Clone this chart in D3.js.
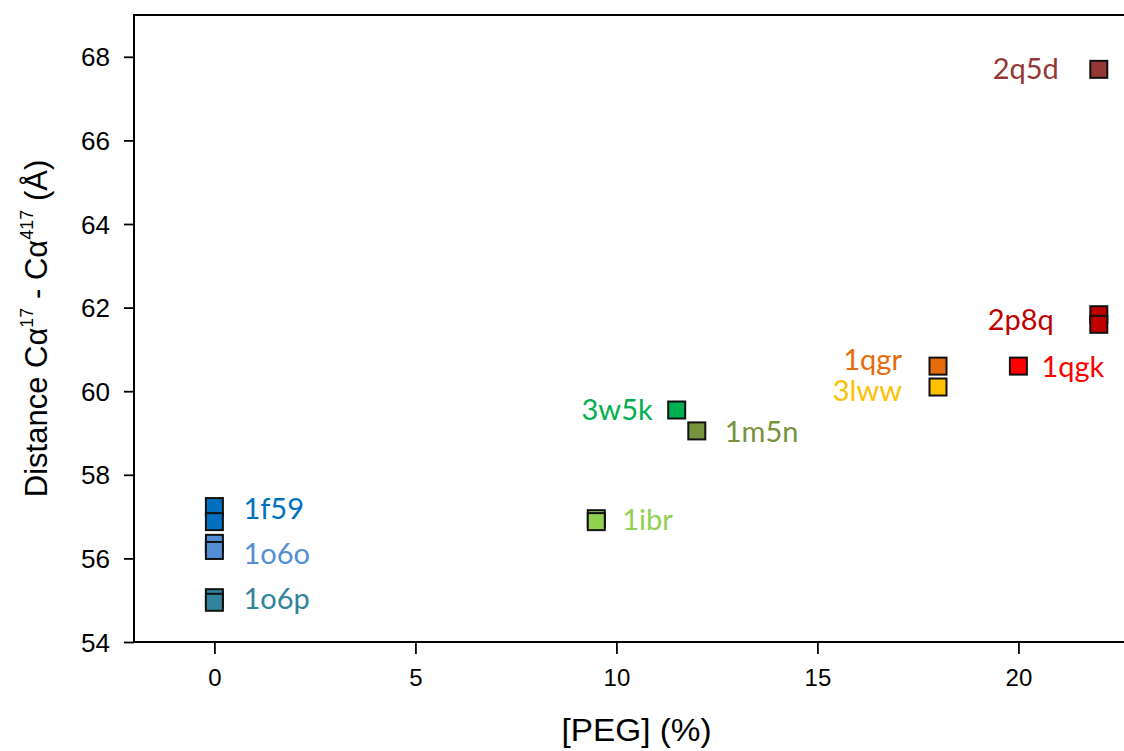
<!DOCTYPE html>
<html>
<head>
<meta charset="utf-8">
<script src="https://cdn.jsdelivr.net/npm/d3@7"></script>
<style>
  html, body { margin: 0; padding: 0; background: #fff; }
  svg { display: block; overflow: hidden; }
</style>
</head>
<body>
<svg id="chart" width="1124" height="751"></svg>
<script>
// PDB structures, PEG concentration (%) and measured Cα17–Cα417 distances (Å)
const structures = ["1f59", "1o6o", "1o6p", "1ibr", "3w5k", "1m5n", "1qgr", "3lww", "1qgk", "2p8q", "2q5d"];
const pegPercent = [0, 0, 0, 9.5, 11.5, 12, 18, 18, 20, 22, 22];
const distances = [
  [57.24, 56.88],
  [56.36, 56.19],
  [55.06, 54.95],
  [56.95, 56.88],
  [59.55],
  [59.05],
  [60.6],
  [60.1],
  [60.6],
  [61.83, 61.6],
  [67.7]
];
const xTickValues = [0, 5, 10, 15, 20];
const yTickValues = [54, 56, 58, 60, 62, 64, 66, 68];

// colour per structure
const colors = ["#0070C0", "#558ED5", "#31849B", "#92D050", "#00B050", "#77933C",
                "#E46C0A", "#FFC000", "#FF0000", "#C00000", "#953735"];
// label placement relative to the first marker of each structure: [anchor, dx, dy]
const labelPlacement = [
  ["start", 29, 12], ["start", 29, 21], ["start", 29, 11], ["start", 26, 11],
  ["end", -24, 10], ["start", 28, 11], ["end", -36, 4], ["end", -36, 14],
  ["start", 23, 11], ["end", -45, 15], ["end", -40, 10]
];

const svg = d3.select("#chart");
const plot = { left: 134, top: 15, right: 1139, bottom: 642 };

const x = d3.scaleLinear().domain([-2, 23]).range([plot.left, plot.right]);
const y = d3.scaleLinear().domain([54, 69]).range([plot.bottom, plot.top]);

const axisFont = "'Liberation Sans', Arial, Helvetica, sans-serif";
const labelFont = "Lato, 'Open Sans', sans-serif";

// x axis
const gx = svg.append("g")
  .attr("transform", `translate(0,${plot.bottom})`)
  .call(d3.axisBottom(x).tickValues(xTickValues).tickSize(12).tickSizeOuter(0).tickPadding(15));
gx.select(".domain").remove();
gx.selectAll(".tick line").attr("stroke", "#000").attr("stroke-width", 1.8);
gx.selectAll(".tick text")
  .attr("font-family", axisFont).attr("font-size", 24).attr("fill", "#000");

// y axis
const gy = svg.append("g")
  .attr("transform", `translate(${plot.left},0)`)
  .call(d3.axisLeft(y).tickValues(yTickValues).tickSize(10).tickSizeOuter(0).tickPadding(14));
gy.select(".domain").remove();
gy.selectAll(".tick line").attr("stroke", "#000").attr("stroke-width", 1.8);
gy.selectAll(".tick text")
  .attr("font-family", axisFont).attr("font-size", 25).attr("fill", "#000")
  .attr("dy", "0.36em")
  .attr("textLength", 29).attr("lengthAdjust", "spacingAndGlyphs");

// plot frame
svg.append("rect")
  .attr("x", plot.left).attr("y", plot.top)
  .attr("width", plot.right - plot.left).attr("height", plot.bottom - plot.top)
  .attr("fill", "none").attr("stroke", "#000").attr("stroke-width", 2);

// axis titles
svg.append("text")
  .attr("x", (plot.left + plot.right) / 2).attr("y", 741)
  .attr("text-anchor", "middle")
  .attr("font-family", axisFont).attr("font-size", 32)
  .attr("textLength", 150).attr("lengthAdjust", "spacingAndGlyphs")
  .text("[PEG] (%)");

const yTitle = svg.append("text")
  .attr("transform", `translate(47,${(plot.top + plot.bottom) / 2}) rotate(-90)`)
  .attr("text-anchor", "middle")
  .attr("font-family", axisFont).attr("font-size", 31);
yTitle.append("tspan").text("Distance C\u03B1");
yTitle.append("tspan").attr("font-size", 18).attr("dy", -14).text("17");
yTitle.append("tspan").attr("dy", 14).text(" - C\u03B1");
yTitle.append("tspan").attr("font-size", 18).attr("dy", -14).text("417");
yTitle.append("tspan").attr("dy", 14).text(" (\u00C5)");

// markers
const size = 17;
const points = [];
structures.forEach((id, i) => {
  distances[i].forEach(d => points.push({ id, i, peg: pegPercent[i], d }));
});
svg.append("g").selectAll("rect")
  .data(points)
  .join("rect")
  .attr("x", p => x(p.peg) - size / 2)
  .attr("y", p => y(p.d) - size / 2)
  .attr("width", size).attr("height", size)
  .attr("fill", p => colors[p.i])
  .attr("stroke", "#111").attr("stroke-width", 2);

// structure labels
svg.append("g").selectAll("text")
  .data(structures)
  .join("text")
  .attr("x", (id, i) => x(pegPercent[i]) + labelPlacement[i][1])
  .attr("y", (id, i) => y(distances[i][0]) + labelPlacement[i][2])
  .attr("text-anchor", (id, i) => labelPlacement[i][0])
  .attr("font-family", labelFont).attr("font-size", 29)
  .attr("fill", (id, i) => colors[i])
  .text(id => id);
</script>
</body>
</html>
